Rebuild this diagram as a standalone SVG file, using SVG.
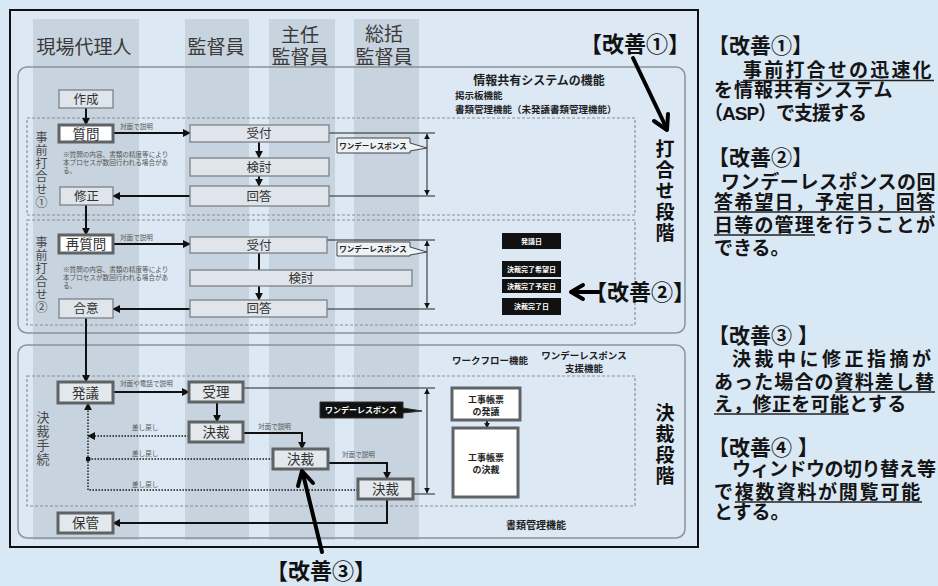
<svg xmlns="http://www.w3.org/2000/svg" width="938" height="586" viewBox="0 0 938 586">
<defs>
<style>
text{font-family:"Liberation Sans","Noto Sans CJK JP",sans-serif}
.lane{fill:#c7d3de}
.sec{fill:none;stroke:#8b9298;stroke-width:1.5}
.dotb{fill:none;stroke:#8a9097;stroke-width:1.2;stroke-dasharray:3 2}
.nb{fill:#dfe5ea;stroke:#7b8287;stroke-width:1.3}
.tb{fill:#e3e8ec;stroke:#5f6366;stroke-width:3}
.wb{fill:#ffffff;stroke:#5f6366;stroke-width:3}
.nt{font-size:12.5px;fill:#333;text-anchor:middle}
.nt2{font-size:13.5px;fill:#333;text-anchor:middle}
.hd{font-size:19px;fill:#3a3a3a;text-anchor:middle}
.vt{font-size:12px;fill:#4a4a4a;writing-mode:vertical-rl;letter-spacing:1px}
.vb{font-size:19px;font-weight:bold;fill:#111;writing-mode:vertical-rl;letter-spacing:2px}
.s{font-size:6.6px;fill:#555}
.c{stroke:#111;stroke-width:2;fill:none}
.cd{stroke:#222;stroke-width:1.5;stroke-dasharray:1.6 1.4;fill:none}
.m{stroke:#222;stroke-width:1;fill:none}
.lbl{font-weight:bold;fill:#1e1e1e}
.big{font-size:22px;font-weight:bold;fill:#111}
.rp{font-size:19px;font-weight:bold;fill:#151515}
.rh{font-size:21px}
.ul{stroke:#222;stroke-width:1.6}
.bk{fill:#111}
.wt{font-size:7px;font-weight:bold;fill:#fff;text-anchor:middle}
.bt{font-size:9px;font-weight:bold;fill:#222;text-anchor:middle}
.ka{stroke:#000;stroke-width:4;fill:none;stroke-linecap:round;stroke-linejoin:round}
</style>
<marker id="ah" viewBox="0 0 10 10" refX="9" refY="5" markerWidth="8" markerHeight="8" markerUnits="userSpaceOnUse" orient="auto"><path d="M0,0 L10,5 L0,10 z" fill="#111"/></marker>
<marker id="sm" viewBox="0 0 10 10" refX="9" refY="5" markerWidth="6" markerHeight="6" markerUnits="userSpaceOnUse" orient="auto-start-reverse"><path d="M0,0 L10,5 L0,10 z" fill="#111"/></marker>
<marker id="dt" viewBox="0 0 10 10" refX="5" refY="5" markerWidth="5" markerHeight="5" markerUnits="userSpaceOnUse"><circle cx="5" cy="5" r="5" fill="#111"/></marker>
</defs>

<rect x="0" y="0" width="938" height="586" fill="#d9e8f5"/>
<rect x="10" y="10" width="688" height="537" fill="#dce9f5" stroke="#111" stroke-width="2"/>

<!-- lanes -->
<g id="lanes">
<rect class="lane" x="33" y="19" width="106" height="521"/>
<rect class="lane" x="185" y="19" width="64" height="521"/>
<rect class="lane" x="269" y="19" width="66" height="521"/>
<rect class="lane" x="354" y="19" width="65" height="521"/>
<text class="hd" x="84" y="54">現場代理人</text>
<text class="hd" x="216" y="54">監督員</text>
<text class="hd"><tspan x="300" y="42">主任</tspan><tspan x="300" y="64">監督員</tspan></text>
<text class="hd"><tspan x="384" y="41">総括</tspan><tspan x="384" y="64">監督員</tspan></text>
</g>

<!-- sections -->
<g id="sections">
<rect class="sec" x="18" y="67" width="667" height="266" rx="9"/>
<rect class="sec" x="18" y="345" width="667" height="193" rx="9"/>
<rect class="dotb" x="27" y="118" width="608" height="97"/>
<rect class="dotb" x="27" y="220" width="608" height="105"/>
<rect class="dotb" x="27" y="376" width="608" height="130"/>
<text class="vt" x="40" y="131">事前打合せ①</text>
<text class="vt" x="40" y="236">事前打合せ②</text>
<text class="vt" x="42" y="411" style="font-size:13px">決裁手続</text>
<text class="vb" x="663" y="139">打合せ段階</text>
<text class="vb" x="663" y="403">決裁段階</text>
<text class="lbl" font-size="9.5"><tspan x="539" y="85" font-size="12" text-anchor="middle">情報共有システムの機能</tspan><tspan x="455" y="99">掲示板機能</tspan><tspan x="455" y="113">書類管理機能（未発議書類管理機能）</tspan></text>
<text class="lbl" x="490" y="364" font-size="9.5" text-anchor="middle">ワークフロー機能</text>
<text class="lbl" font-size="9.5" text-anchor="middle"><tspan x="584" y="359">ワンデーレスポンス</tspan><tspan x="584" y="372">支援機能</tspan></text>
<text class="lbl" x="536" y="529" font-size="10" text-anchor="middle">書類管理機能</text>
<text class="s"><tspan x="63" y="157">※質問の内容、書類の精度等により</tspan><tspan x="63" y="165">本プロセスが数回行われる場合があ</tspan><tspan x="63" y="173">る。</tspan></text>
<text class="s"><tspan x="63" y="272">※質問の内容、書類の精度等により</tspan><tspan x="63" y="280">本プロセスが数回行われる場合があ</tspan><tspan x="63" y="288">る。</tspan></text>
</g>

<!-- connectors -->
<g id="connectors">
<line class="c" x1="86" y1="108" x2="86" y2="125" marker-end="url(#ah)"/>
<line class="c" x1="113" y1="133" x2="190" y2="133" marker-end="url(#ah)"/>
<line class="c" x1="259" y1="142" x2="259" y2="158" marker-end="url(#ah)"/>
<line class="c" x1="259" y1="176" x2="259" y2="186" marker-end="url(#ah)"/>
<line class="c" x1="190" y1="196" x2="113" y2="196" marker-end="url(#ah)"/>
<line class="c" x1="86" y1="205" x2="86" y2="235" marker-end="url(#ah)"/>
<line class="c" x1="113" y1="244" x2="190" y2="244" marker-end="url(#ah)"/>
<line class="c" x1="259" y1="253" x2="259" y2="270"/>
<line class="c" x1="259" y1="286" x2="259" y2="300" marker-end="url(#ah)"/>
<line class="c" x1="190" y1="309" x2="113" y2="309" marker-end="url(#ah)"/>
<line class="c" x1="86" y1="318" x2="86" y2="382" marker-end="url(#ah)"/>
<line class="c" x1="113" y1="392" x2="189" y2="392" marker-end="url(#ah)"/>
<line class="c" x1="217" y1="402" x2="217" y2="422" marker-end="url(#ah)"/>
<polyline class="c" points="243,433 302,433 302,449" marker-end="url(#ah)"/>
<polyline class="c" points="328,463 387,463 387,479" marker-end="url(#ah)"/>
<polyline class="c" points="387,499 387,523 113,523" marker-end="url(#ah)"/>
<line class="c" x1="487" y1="420" x2="487" y2="428" stroke-width="1.2" marker-end="url(#sm)"/>
<line class="cd" x1="189" y1="436" x2="88" y2="436" marker-end="url(#ah)"/>
<line class="cd" x1="273" y1="459" x2="88" y2="459" marker-end="url(#dt)"/>
<polyline class="cd" points="358,490 88,490 88,403" marker-end="url(#ah)"/>
<text class="s" x="120" y="129">対面で説明</text>
<text class="s" x="120" y="240">対面で説明</text>
<text class="s" x="120" y="386">対面や電話で説明</text>
<text class="s" x="258" y="429">対面で説明</text>
<text class="s" x="342" y="457">対面で説明</text>
<text class="s" x="132" y="430" font-size="7">差し戻し</text>
<text class="s" x="132" y="456" font-size="7">差し戻し</text>
<text class="s" x="132" y="487" font-size="7">差し戻し</text>
<!-- measurement lines -->
<line class="m" x1="329" y1="133" x2="435" y2="133"/>
<line class="m" x1="329" y1="196" x2="435" y2="196"/>
<line class="m" x1="427" y1="134" x2="427" y2="195" marker-start="url(#sm)" marker-end="url(#sm)"/>
<line class="m" x1="327" y1="240" x2="435" y2="240"/>
<line class="m" x1="327" y1="309" x2="435" y2="309"/>
<line class="m" x1="427" y1="241" x2="427" y2="308" marker-start="url(#sm)" marker-end="url(#sm)"/>
<line class="m" x1="243" y1="388" x2="435" y2="388"/>
<line class="m" x1="413" y1="494" x2="435" y2="494"/>
<line class="m" x1="427" y1="389" x2="427" y2="493" marker-start="url(#sm)" marker-end="url(#sm)"/>
</g>

<!-- nodes -->
<g id="n-sakusei"><rect class="nb" x="59" y="90" width="54" height="18"/><text class="nt" x="86" y="104">作成</text></g>
<g id="n-shitsumon"><rect class="wb" x="59" y="125" width="54" height="17"/><text class="nt2" x="86" y="138.5">質問</text></g>
<g id="n-shusei"><rect class="nb" x="60" y="187" width="53" height="18"/><text class="nt" x="86.5" y="201">修正</text></g>
<g id="n-saishitsumon"><rect class="wb" x="59" y="235" width="54" height="18"/><text class="nt2" x="86" y="249">再質問</text></g>
<g id="n-goi"><rect class="nb" x="59" y="299" width="54" height="19"/><text class="nt" x="86" y="313">合意</text></g>
<g id="n-uketsuke1"><rect class="nb" x="190" y="125" width="139" height="17"/><text class="nt" x="259" y="138">受付</text></g>
<g id="n-kento1"><rect class="nb" x="190" y="158" width="139" height="18"/><text class="nt" x="259" y="171.5">検討</text></g>
<g id="n-kaito1"><rect class="nb" x="190" y="186" width="139" height="20"/><text class="nt" x="259" y="200.5">回答</text></g>
<g id="n-uketsuke2"><rect class="nb" x="190" y="237" width="137" height="16"/><text class="nt" x="259" y="249.5">受付</text></g>
<g id="n-kento2"><rect class="nb" x="190" y="270" width="222" height="16"/><text class="nt" x="301" y="282.5">検討</text></g>
<g id="n-kaito2"><rect class="nb" x="190" y="300" width="137" height="17"/><text class="nt" x="259" y="313">回答</text></g>
<g id="n-wdr1"><path d="M337,138 H410 V143 L427,148 L410,151 V153 H337 Z" fill="#eef2f5" stroke="#444" stroke-width="1"/><text x="373" y="148.5" font-size="7.5" font-weight="bold" fill="#222" text-anchor="middle">ワンデーレスポンス</text></g>
<g id="n-wdr2"><path d="M337,242 H410 V247 L427,252 L410,255 V256 H337 Z" fill="#eef2f5" stroke="#444" stroke-width="1"/><text x="373" y="252" font-size="7.5" font-weight="bold" fill="#222" text-anchor="middle">ワンデーレスポンス</text></g>
<g id="n-date1"><rect class="bk" x="502" y="233" width="59" height="16"/><text class="wt" x="531.5" y="243.5">発議日</text></g>
<g id="n-date2"><rect class="bk" x="502" y="261" width="59" height="16"/><text class="wt" x="531.5" y="271.5">決裁完了希望日</text></g>
<g id="n-date3"><rect class="bk" x="502" y="279" width="59" height="14"/><text class="wt" x="531.5" y="288.5">決裁完了予定日</text></g>
<g id="n-date4"><rect class="bk" x="502" y="298" width="59" height="17"/><text class="wt" x="531.5" y="309">決裁完了日</text></g>
<g id="n-hatsugi"><rect class="tb" x="58" y="382" width="55" height="21"/><text class="nt2" x="85.5" y="397.5">発議</text></g>
<g id="n-juri"><rect class="tb" x="189" y="382" width="54" height="20"/><text class="nt2" x="216" y="397">受理</text></g>
<g id="n-kessai1"><rect class="tb" x="189" y="422" width="54" height="20"/><text class="nt2" x="216" y="437">決裁</text></g>
<g id="n-kessai2"><rect class="tb" x="273" y="449" width="55" height="20"/><text class="nt2" x="300.5" y="464">決裁</text></g>
<g id="n-kessai3"><rect class="tb" x="358" y="479" width="55" height="20"/><text class="nt2" x="385.5" y="494">決裁</text></g>
<g id="n-hokan"><rect class="tb" x="58" y="513" width="55" height="20"/><text class="nt2" x="85.5" y="528">保管</text></g>
<g id="n-wdr3"><path d="M320,402 H403 V408 L422,411 L403,413 V418 H320 Z" fill="#111" stroke="#333" stroke-width="1"/><text x="361" y="413" font-size="8" font-weight="bold" fill="#fff" text-anchor="middle">ワンデーレスポンス</text></g>
<g id="n-chohyo-hatsugi"><rect class="wb" x="452" y="388" width="68" height="32"/><text class="bt"><tspan x="486" y="403">工事帳票</tspan><tspan x="486" y="415">の発議</tspan></text></g>
<g id="n-chohyo-kessai"><rect class="wb" x="453" y="428" width="65" height="69"/><text class="bt"><tspan x="486" y="461">工事帳票</tspan><tspan x="486" y="473">の決裁</tspan></text></g>

<!-- improvement callouts -->
<g id="kaizen1"><text class="big" x="580" y="52">【改善①】</text><line class="ka" x1="633" y1="58" x2="666" y2="127"/><polyline class="ka" points="668,114 667,130 654,121"/></g>
<g id="kaizen2"><text class="big" x="585" y="300">【改善②】</text><line class="ka" x1="599" y1="292" x2="572" y2="292" stroke-width="3.5"/><polyline class="ka" points="583,285 571,292 583,299" stroke-width="3.5"/></g>
<g id="kaizen3"><text class="big" x="266" y="579" font-size="23">【改善③】</text><line class="ka" x1="322" y1="552" x2="303" y2="474"/><polyline class="ka" points="313,483 302,471 298,486"/></g>

<!-- right panel -->
<g id="panel">
<text class="rp"><tspan class="rh" x="708" y="53">【改善①】</tspan><tspan x="743" y="76.5" letter-spacing="2.2">事前打合せの迅速化</tspan><tspan x="714" y="97" letter-spacing="1">を情報共有システム</tspan><tspan x="704" y="120" letter-spacing="-1">（ASP）で支援する</tspan></text>
<line class="ul" x1="743" y1="80.5" x2="934" y2="80.5"/>
<text class="rp"><tspan class="rh" x="708" y="165">【改善②】</tspan><tspan x="721" y="188.5" letter-spacing="0.6">ワンデーレスポンスの回</tspan><tspan x="714" y="208.5" letter-spacing="1.2">答希望日，予定日，回答</tspan><tspan x="714" y="231.5" letter-spacing="1.2">日等の管理を行うことが</tspan><tspan x="714" y="255">できる。</tspan></text>
<line class="ul" x1="714" y1="212" x2="935" y2="212"/>
<line class="ul" x1="714" y1="235" x2="815" y2="235"/>
<text class="rp"><tspan class="rh" x="708" y="343">【改善③ 】</tspan><tspan x="732" y="365.5" letter-spacing="3.5">決裁中に修正指摘が</tspan><tspan x="714" y="388.5" letter-spacing="1.1">あった場合の資料差し替</tspan><tspan x="714" y="410.5" letter-spacing="0.3">え，修正を可能とする</tspan></text>
<line class="ul" x1="835" y1="392" x2="935" y2="392"/>
<line class="ul" x1="714" y1="414" x2="849" y2="414"/>
<text class="rp"><tspan class="rh" x="708" y="455">【改善④ 】</tspan><tspan x="732" y="475.5" letter-spacing="-0.5">ウィンドウの切り替え等</tspan><tspan x="714" y="498.5" letter-spacing="1.8">で複数資料が閲覧可能</tspan><tspan x="714" y="518.5">とする。</tspan></text>
<line class="ul" x1="735" y1="502" x2="922" y2="502"/>
</g>
</svg>
